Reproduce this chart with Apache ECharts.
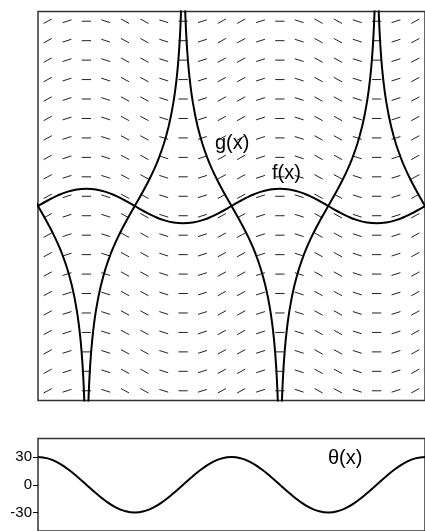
<!DOCTYPE html>
<html><head><meta charset="utf-8">
<script src="https://cdn.jsdelivr.net/npm/echarts@6/dist/echarts.min.js"></script>
<style>html,body{margin:0;padding:0;background:#fff}#c{width:425px;height:531px}</style>
</head><body><div id="c"></div>
<script>
// Direction field: column centres (x, cell units), row centres (y) and dash angle per column (degrees)
const fieldColumns = [0.5,1.5,2.5,3.5,4.5,5.5,6.5,7.5,8.5,9.5,10.5,11.5,12.5,13.5,14.5,15.5,16.5,17.5,18.5,19.5];
const fieldRows = [-9.5,-8.5,-7.5,-6.5,-5.5,-4.5,-3.5,-2.5,-1.5,-0.5,0.5,1.5,2.5,3.5,4.5,5.5,6.5,7.5,8.5,9.5];
const fieldAngles = [28.5,17.6,0,-17.6,-28.5,-28.5,-17.6,0,17.6,28.5,28.5,17.6,0,-17.6,-28.5,-28.5,-17.6,0,17.6,28.5];

// f(x) curve samples
const fX = [0,0.5,1,1.5,2,2.5,3,3.5,4,4.5,5,5.5,6,6.5,7,7.5,8,8.5,9,9.5,10,10.5,11,11.5,12,12.5,13,13.5,14,14.5,15,15.5,16,16.5,17,17.5,18,18.5,19,19.5,20];
const fY = [0,0.283,0.534,0.727,0.848,0.889,0.848,0.727,0.534,0.283,0,-0.283,-0.534,-0.727,-0.848,-0.889,-0.848,-0.727,-0.534,-0.283,0,0.283,0.534,0.727,0.848,0.889,0.848,0.727,0.534,0.283,0,-0.283,-0.534,-0.727,-0.848,-0.889,-0.848,-0.727,-0.534,-0.283,0];

// g(x) branch profile (offset from branch centre, rise) and branch centres / directions
const gOffsets = [-2.4,-2.39,-2.38,-2.365,-2.35,-2.325,-2.3,-2.25,-2.2,-2.15,-2.1,-2.05,-2.0,-1.875,-1.75,-1.625,-1.5,-1.375,-1.25,-1.125,-1.0,-0.875,-0.75,-0.625,-0.5,-0.375,-0.25,-0.125,
  0,0.125,0.25,0.375,0.5,0.625,0.75,0.875,1.0,1.125,1.25,1.375,1.5,1.625,1.75,1.875,2.0,2.05,2.1,2.15,2.2,2.25,2.3,2.325,2.35,2.365,2.38,2.39,2.4];
const gRise = [-10.24,-9.951,-9.686,-9.328,-9.008,-8.539,-8.132,-7.455,-6.898,-6.428,-6.02,-5.66,-5.338,-4.65,-4.087,-3.608,-3.189,-2.817,-2.48,-2.171,-1.884,-1.615,-1.36,-1.118,-0.884,-0.657,-0.435,-0.217,
  0,0.217,0.435,0.657,0.884,1.118,1.36,1.615,1.884,2.171,2.48,2.817,3.189,3.608,4.087,4.65,5.338,5.66,6.02,6.428,6.898,7.455,8.132,8.539,9.008,9.328,9.686,9.951,10.24];
const gCenters = [0,5,10,15,20];
const gSigns = [-1,1,-1,1,-1];

// theta(x), degrees
const thetaX = fX;
const thetaY = [30,28.5,24.3,17.6,9.3,0,-9.3,-17.6,-24.3,-28.5,-30,-28.5,-24.3,-17.6,-9.3,0,9.3,17.6,24.3,28.5,30,28.5,24.3,17.6,9.3,0,-9.3,-17.6,-24.3,-28.5,-30,-28.5,-24.3,-17.6,-9.3,0,9.3,17.6,24.3,28.5,30];
const thetaTicks = [-30,0,30];

const FONT = '"Liberation Sans", Arial, sans-serif';
const fieldData = [];
fieldColumns.forEach((x,i)=>fieldRows.forEach(y=>fieldData.push([x,y,fieldAngles[i]])));

const gSeries = gCenters.map((c,k)=>({
  type:'line', xAxisIndex:0, yAxisIndex:0, showSymbol:false, clip:true, smooth:false,
  lineStyle:{color:'#000', width:2, join:'round'},
  data: gOffsets.map((v,i)=>[c+v, gSigns[k]*gRise[i]]), z:4
}));

const chart = echarts.init(document.getElementById('c'), null, {renderer:'canvas'});
chart.setOption({
  animation:false,
  backgroundColor:'#fff',
  grid:[
    {left:38, top:11.5, width:389, height:389, show:true, borderColor:'#333', borderWidth:1.5, backgroundColor:'transparent'},
    {left:38, top:438.5, width:389, height:97, show:true, borderColor:'#333', borderWidth:1.5, backgroundColor:'transparent'}
  ],
  xAxis:[
    {type:'value', gridIndex:0, min:0, max:20, show:false},
    {type:'value', gridIndex:1, min:0, max:20, show:false}
  ],
  yAxis:[
    {type:'value', gridIndex:0, min:-10, max:10, show:false},
    {type:'value', gridIndex:1, min:-50, max:50, splitLine:{show:false},
     axisLine:{show:false},
     axisTick:{show:true, length:5, inside:false, customValues:thetaTicks, lineStyle:{color:'#000', width:1}},
     axisLabel:{customValues:thetaTicks, color:'#000', fontSize:15, fontFamily:FONT, margin:6}}
  ],
  series:[
    {
      type:'custom', xAxisIndex:0, yAxisIndex:0, data:fieldData, z:2, clip:true,
      renderItem:function(params, api){
        const x=api.value(0), y=api.value(1), a=api.value(2)*Math.PI/180;
        const h=0.24;
        const p1=api.coord([x-h*Math.cos(a), y-h*Math.sin(a)]);
        const p2=api.coord([x+h*Math.cos(a), y+h*Math.sin(a)]);
        return {type:'line', shape:{x1:p1[0],y1:p1[1],x2:p2[0],y2:p2[1]}, style:{stroke:'#222', lineWidth:1}};
      }
    },
    {
      type:'line', xAxisIndex:0, yAxisIndex:0, showSymbol:false, smooth:true, clip:true,
      lineStyle:{color:'#000', width:2}, z:4,
      data: fX.map((x,i)=>[x,fY[i]])
    },
    ...gSeries,
    {
      type:'line', xAxisIndex:1, yAxisIndex:1, showSymbol:false, smooth:true, clip:true,
      lineStyle:{color:'#000', width:2}, z:4,
      data: thetaX.map((x,i)=>[x,thetaY[i]])
    }
  ],
  graphic:[
    {type:'text', left:215, top:133, z:10, style:{text:'g(x)', font:'20px '+FONT, fill:'#000'}},
    {type:'text', left:272, top:163, z:10, style:{text:'f(x)', font:'20px '+FONT, fill:'#000'}},
    {type:'text', left:328, top:448, z:10, style:{text:'θ(x)', font:'20px '+FONT, fill:'#000'}}
  ]
});
</script></body></html>
